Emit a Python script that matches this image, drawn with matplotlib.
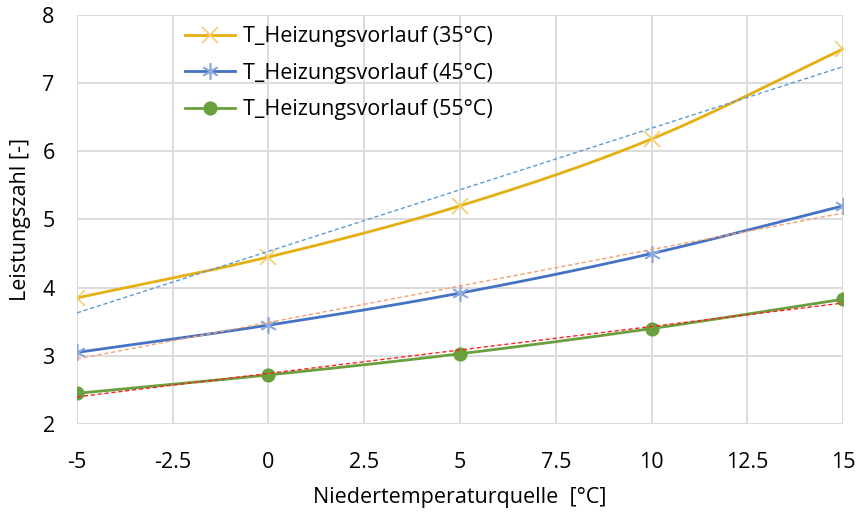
import numpy as np
import matplotlib
matplotlib.use("Agg")
import matplotlib.pyplot as plt

x_vals = [-5, 0, 5, 10, 15]
cop_35 = [3.85, 4.45, 5.20, 6.18, 7.50]
cop_45 = [3.05, 3.45, 3.92, 4.50, 5.20]
cop_55 = [2.45, 2.72, 3.03, 3.40, 3.83]
labels = ["T_Heizungsvorlauf (35°C)", "T_Heizungsvorlauf (45°C)", "T_Heizungsvorlauf (55°C)"]
x_ticks = [-5, -2.5, 0, 2.5, 5, 7.5, 10, 12.5, 15]
x_ticklabels = ["-5", "-2.5", "0", "2.5", "5", "7.5", "10", "12.5", "15"]
y_ticks = [2, 3, 4, 5, 6, 7, 8]

plt.rcParams['font.family'] = ['Open Sans', 'DejaVu Sans']
FS = 15.5


def smooth(xs, ys, n=40):
    xs = np.asarray(xs, float)
    ys = np.asarray(ys, float)
    px = np.concatenate([[2 * xs[0] - xs[1]], xs, [2 * xs[-1] - xs[-2]]])
    py = np.concatenate([[2 * ys[0] - ys[1]], ys, [2 * ys[-1] - ys[-2]]])
    ox, oy = [], []
    t = np.linspace(0, 1, n)
    for i in range(1, len(px) - 2):
        p0, p1, p2, p3 = [np.array([px[j], py[j]]) for j in (i - 1, i, i + 1, i + 2)]
        c1 = p1 + (p2 - p0) / 6
        c2 = p2 - (p3 - p1) / 6
        pts = ((1 - t) ** 3)[:, None] * p1 + (3 * (1 - t) ** 2 * t)[:, None] * c1 + \
              (3 * (1 - t) * t ** 2)[:, None] * c2 + (t ** 3)[:, None] * p2
        ox.extend(pts[:, 0])
        oy.extend(pts[:, 1])
    return np.array(ox), np.array(oy)


fig = plt.figure(figsize=(8.57, 5.13), dpi=100)
ax = fig.add_axes([0.0898, 0.1735, 0.8939, 0.7973])

series = [
    (cop_35, "#E5AE11", "#F2CF6A", "x", 12, "#5B9BD5"),
    (cop_45, "#4472C4", "#8FA9DC", (6, 2, 0), 12, "#F4A070"),
    (cop_55, "#6A9F3E", "#6A9F3E", "o", 9, "#FF2020"),
]

xs = np.array(x_vals, float)
for (ys, col, mcol, mk, ms, tcol), lab in zip(series, labels):
    sx, sy = smooth(x_vals, ys)
    ax.plot(sx, sy, color=col, lw=2.0, zorder=3, solid_capstyle='round')
    ax.plot(x_vals, ys, linestyle='none', marker=mk, markersize=ms, color=mcol,
            markeredgecolor=mcol, markeredgewidth=1.2, zorder=4)
    ax.plot([], [], color=col, lw=2.0, marker=mk, markersize=ms, markerfacecolor=mcol,
            markeredgecolor=mcol, markeredgewidth=1.2, label=lab)
    k, b = np.polyfit(xs, np.asarray(ys, float), 1)
    ax.plot([xs[0], xs[-1]], [k * xs[0] + b, k * xs[-1] + b], color=tcol, lw=1.0,
            linestyle=(0, (3, 2)), zorder=5)

ax.set_xlim(-5, 15)
ax.set_ylim(2, 8)
ax.set_xticks(x_ticks)
ax.set_xticklabels(x_ticklabels)
ax.set_yticks(y_ticks)
ax.grid(True, color="#D9D9D9", lw=1.3, zorder=0)
ax.set_axisbelow(True)
for s in ax.spines.values():
    s.set_visible(False)
ax.tick_params(length=0, labelsize=FS, colors="#000000")
ax.tick_params(axis='x', pad=20)
ax.tick_params(axis='y', pad=16)
ax.set_xlabel("Niedertemperaturquelle  [°C]", fontsize=FS, labelpad=10)
ax.set_ylabel("Leistungszahl [-]", fontsize=FS, labelpad=8)

leg = ax.legend(loc='upper left', bbox_to_anchor=(0.116, 1.02), frameon=False,
                fontsize=FS, handlelength=2.3, labelspacing=0.72, handletextpad=0.4)

fig.savefig("out.png", dpi=100)
